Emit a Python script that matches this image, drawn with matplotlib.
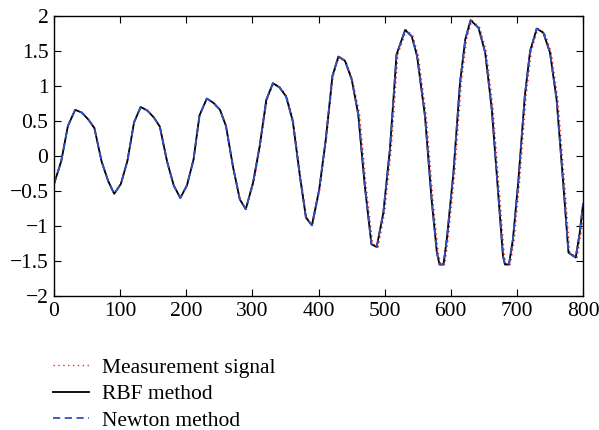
import matplotlib
matplotlib.use('Agg')
import matplotlib.pyplot as plt

# time samples
t = [0, 11, 21, 32, 42, 52, 61, 72, 82, 91,
     101, 111, 121, 131, 141, 151, 160, 171, 181, 191,
     201, 211, 220, 231, 241, 251, 260, 271, 281, 290,
     301, 311, 321, 331, 341, 351, 361, 372, 381, 390,
     401, 411, 421, 430, 440, 450, 460, 470, 480, 488,
     498, 508, 518, 531, 541, 549, 561, 571, 579, 583,
     589, 594, 604, 614, 622, 630, 642, 652, 662, 672,
     679, 682, 688, 694, 702, 712, 720, 730, 740, 750,
     760, 770, 778, 781, 789, 795, 800]

# RBF / Newton fit output
fit = [-0.40, -0.07, 0.43, 0.66, 0.62, 0.52, 0.40, -0.08, -0.36, -0.54,
       -0.40, -0.07, 0.48, 0.70, 0.65, 0.55, 0.42, -0.08, -0.42, -0.60,
       -0.42, -0.05, 0.58, 0.82, 0.76, 0.66, 0.43, -0.17, -0.62, -0.76,
       -0.38, 0.14, 0.80, 1.04, 0.98, 0.85, 0.50, -0.30, -0.88, -0.99,
       -0.48, 0.24, 1.14, 1.42, 1.36, 1.10, 0.60, -0.43, -1.26, -1.30,
       -0.81, 0.10, 1.45, 1.80, 1.71, 1.43, 0.57, -0.62, -1.38, -1.55,
       -1.55, -1.19, -0.24, 1.05, 1.67, 1.94, 1.83, 1.48, 0.67, -0.57,
       -1.43, -1.55, -1.55, -1.19, -0.38, 0.86, 1.50, 1.82, 1.76, 1.48,
       0.81, -0.38, -1.38, -1.40, -1.45, -1.10, -0.69]

# measurement samples lag the fit a little in the later cycles
t_meas = [0, 11, 21, 32, 42, 52, 61, 72, 82, 91,
          101, 111, 121, 131, 141, 151, 160, 171, 181, 191,
          201, 211, 220, 231, 241, 251, 260, 271, 281, 290,
          302, 312, 322, 332, 342, 352, 362, 373, 382, 391,
          402, 412, 422, 431, 441, 451, 462, 472, 482, 490,
          500, 510, 520, 533, 543, 551, 563, 573, 581, 585,
          591, 596, 606, 616, 624, 632, 644, 654, 664, 674,
          681, 684, 690, 696, 704, 714, 722, 732, 742, 752,
          762, 772, 780, 783, 791, 797, 802]
meas = fit

labels = ['Measurement signal', 'RBF method', 'Newton method']

plt.rcParams['font.family'] = ['Liberation Serif', 'DejaVu Serif']
fs = 15.5

fig = plt.figure(figsize=(5.99, 4.30), dpi=100)
ax = fig.add_axes([0.0902, 0.3116, 0.8831, 0.6512])

ax.plot(t_meas, meas, color='#ff2020', linestyle=(0, (1, 2.5)), linewidth=1.0, label=labels[0])
ax.plot(t, fit, color='black', linewidth=1.3, label=labels[1])
ax.plot(t, fit, color='#3050c0', linestyle=(0, (4, 2.5)), linewidth=1.3, label=labels[2])

ax.set_xlim(0, 800)
ax.set_ylim(-2, 2)
ax.set_xticks(range(0, 801, 100))
ax.set_yticks([-2, -1.5, -1, -0.5, 0, 0.5, 1, 1.5, 2])
ax.set_yticklabels(['\u22122', '\u22121.5', '\u22121', '\u22120.5', '0', '0.5', '1', '1.5', '2'])
ax.tick_params(direction='in', top=True, right=True, length=5, width=0.8, labelsize=fs, pad=4)
for s in ax.spines.values():
    s.set_linewidth(1.0)

fig.legend(loc='upper left', bbox_to_anchor=(0.088, 0.168), frameon=False,
           fontsize=fs, handlelength=1.7, handletextpad=0.6, labelspacing=0.3,
           borderaxespad=0, borderpad=0)

fig.savefig('out.png', dpi=100)
